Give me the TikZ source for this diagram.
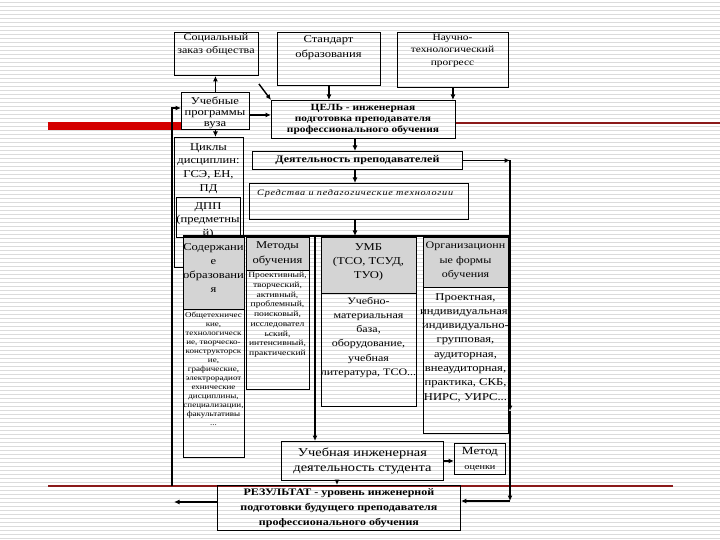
\documentclass[tikz,border=0pt]{standalone}
\usepackage{fontspec}
\setmainfont{Liberation Serif}[FakeStretch=1.2]
\usetikzlibrary{arrows.meta}
\definecolor{hdr}{HTML}{D4D4D4}
\definecolor{dred}{HTML}{8B1A1A}
\definecolor{bred}{HTML}{D40000}
\newcommand{\fs}[2]{\fontsize{#1}{#2}\selectfont}
\begin{document}
\begin{tikzpicture}[x=1pt,y=-1pt,
  box/.style={draw=black, line width=0.9pt, inner sep=0pt, anchor=north west},
  hbox/.style={box, fill=hdr},
  txt/.style={inner sep=0pt, align=center, anchor=north},
  arr/.style={line width=1.4pt, -{Latex[length=5.5pt,width=5pt]}},
  stripe/.style={black!14, line width=0.8pt},
]
\useasboundingbox (0,0) rectangle (720,540);
\foreach \yy in {2,6,...,538} \draw[stripe] (0,\yy) -- (720,\yy);

% red decorative lines
\draw[bred, line width=8pt] (48,126.5) -- (181,126.5);
\draw[dred, line width=1.1pt] (455,123) -- (720,123);
\draw[dred, line width=1.1pt] (48,486) -- (673,486);

% top row
\node[box, minimum width=84pt, minimum height=43pt] (soc) at (174,32) {};
\node[txt, font=\fs{10}{13}] (socT) at (216,33) {Социальный\\заказ общества};
\node[box, minimum width=103pt, minimum height=53pt] (std) at (277,32) {};
\node[txt, font=\fs{10.5}{15}] (stdT) at (328.5,35.5) {Стандарт\\образования};
\node[box, minimum width=111pt, minimum height=55pt] (nauch) at (397,32) {};
\node[txt, font=\fs{9.5}{12.5}] (nauchT) at (452.5,34) {Научно-\\технологический\\прогресс};

\node[box, minimum width=68pt, minimum height=37pt] (ucheb) at (181,92) {};
\node[txt, font=\fs{10.5}{11}] (uchebT) at (215,96.5) {Учебные\\программы\\вуза};
\node[box, minimum width=184pt, minimum height=38pt] (cel) at (271,100) {};
\node[txt, font=\fs{9.5}{11}\bfseries] (celT) at (363,104) {ЦЕЛЬ - инженерная\\подготовка преподавателя\\профессионального обучения};

\node[box, minimum width=210pt, minimum height=18pt] (deyat) at (252,151) {};
\node[txt, anchor=center, font=\fs{10}{12}\bfseries] (deyatT) at (deyat.center) {Деятельность преподавателей};
\node[box, minimum width=219pt, minimum height=36pt] (sred) at (249,183) {};
\node[txt, anchor=north west, font=\fs{8.5}{10}\itshape\addfontfeature{LetterSpace=9}] (sredT) at (257,189) {Средства и педагогические технологии};

\node[box, minimum width=69pt, minimum height=130pt] (cikly) at (174,137) {};
\node[txt, font=\fs{10.5}{13.7}] (ciklyT) at (208.5,143) {Циклы\\дисциплин:\\ГСЭ, ЕН,\\ПД};
\node[box, minimum width=64pt, minimum height=40pt] (dpp) at (176,197) {};
\node[txt, font=\fs{10.5}{13.5}] (dppT) at (208,202) {ДПП\\(предметны\\й)};

% frame line over the columns
\coordinate (ftl) at (183,236);
\coordinate (ftr) at (511,236);
\draw[line width=2pt] (ftl) -- (ftr);

% columns
\node[hbox, minimum width=61pt, minimum height=72pt] (conth) at (183,237) {};
\node[txt, font=\fs{10.5}{14}] (conthT) at (213.5,243) {Содержани\\е\\образовани\\я};
\node[box, minimum width=61pt, minimum height=148pt] (contb) at (183,309) {};
\node[txt, font=\fs{7.5}{9}] (contbT) at (213.5,312) {Общетехничес\\кие,\\технологическ\\ие, творческо-\\конструкторск\\ие,\\графические,\\электрорадиот\\ехнические\\дисциплины,\\специализации,\\факультативы\\...};

\node[hbox, minimum width=63pt, minimum height=33pt] (meth) at (246,237) {};
\node[txt, font=\fs{10.5}{15}] (methT) at (277.5,241) {Методы\\обучения};
\node[box, minimum width=63pt, minimum height=119pt] (metb) at (246,270) {};
\node[txt, font=\fs{8}{9.75}] (metbT) at (277.5,272) {Проективный,\\творческий,\\активный,\\проблемный,\\поисковый,\\исследовател\\ьский,\\интенсивный,\\практический};

\node[hbox, minimum width=95pt, minimum height=56pt] (umbh) at (321,237) {};
\node[txt, font=\fs{10.5}{14}] (umbhT) at (368.5,243) {УМБ\\(ТСО, ТСУД,\\ТУО)};
\node[box, minimum width=95pt, minimum height=113pt] (umbb) at (321,293) {};
\node[txt, font=\fs{10}{14.2}] (umbbT) at (368.5,297) {Учебно-\\материальная\\база,\\оборудование,\\учебная\\литература, ТСО...};

\node[hbox, minimum width=85pt, minimum height=50pt] (orgh) at (423,237) {};
\node[txt, font=\fs{10}{14.5}] (orghT) at (465.5,242) {Организационн\\ые формы\\обучения};
\node[box, minimum width=85pt, minimum height=146pt] (orgb) at (423,287) {};
\node[txt, font=\fs{10.5}{14.3}] (orgbT) at (465.5,293) {Проектная,\\индивидуальная,\\индивидуально-\\групповая,\\аудиторная,\\внеаудиторная,\\практика, СКБ,\\НИРС, УИРС...};

% bottom
\node[box, minimum width=162pt, minimum height=39pt] (uid) at (281,441) {};
\node[txt, anchor=center, font=\fs{12}{15}] (uidT) at (uid.center) {Учебная инженерная\\деятельность студента};
\node[box, minimum width=51pt, minimum height=31pt] (metod) at (454,443) {};
\node[txt, anchor=center, font=\fs{11}{15}] (metodT) at (metod.center) {Метод\\{\fs{8.5}{15}оценки}};
\node[box, minimum width=243pt, minimum height=45pt] (rez) at (217,485) {};
\node[txt, anchor=center, font=\fs{10}{15}\bfseries] (rezT) at (rez.center) {РЕЗУЛЬТАТ - уровень инженерной\\подготовки будущего преподавателя\\профессионального обучения};

% connectors
\coordinate (ax) at (355,0);
\coordinate (bx) at (337,0);
\coordinate (fx) at (315,236);
\coordinate (r2) at (510,411);
\coordinate (r3) at (510,501);
\coordinate (l1) at (174,502);
\coordinate (l2) at (172,486);
\coordinate (l3) at (172,108);

\draw[arr] (ucheb.north) -- (ucheb.north |- soc.south);
\draw[arr] ([yshift=-8pt]soc.south east) -- (cel.north west);
\draw[arr] (std.south) -- (std.south |- cel.north);
\draw[arr] (nauch.south) -- (nauch.south |- cel.north);
\draw[arr] ([yshift=-4pt]ucheb.east) -- ([yshift=-4pt]ucheb.east -| cel.west);
\draw[arr] (ucheb.south) -- (ucheb.south |- cikly.north);
\draw[arr] (cel.south -| ax) -- (deyat.north -| ax);
\draw[arr] (deyat.south -| ax) -- (sred.north -| ax);
\draw[arr] (sred.south -| ax) -- (ax |- ftl);
\draw[arr] (deyat.east) -- (deyat.east -| r2);
\draw[arr] (deyat.east -| r2) -- (r2);
\draw[arr] (r2) -- (r3);
\draw[arr] (r3) -- (r3 -| rez.east);
\draw[arr] (fx) -- (fx |- uid.north);
\draw[arr] (uid.east) -- (uid.east -| metod.west);
\draw[arr] (uid.south -| bx) -- (rez.north -| bx);
\draw[arr] (rez.west |- l1) -- (l1);
\draw[arr] (l2) -- (l3) -- (l3 -| ucheb.west);
\end{tikzpicture}
\end{document}
